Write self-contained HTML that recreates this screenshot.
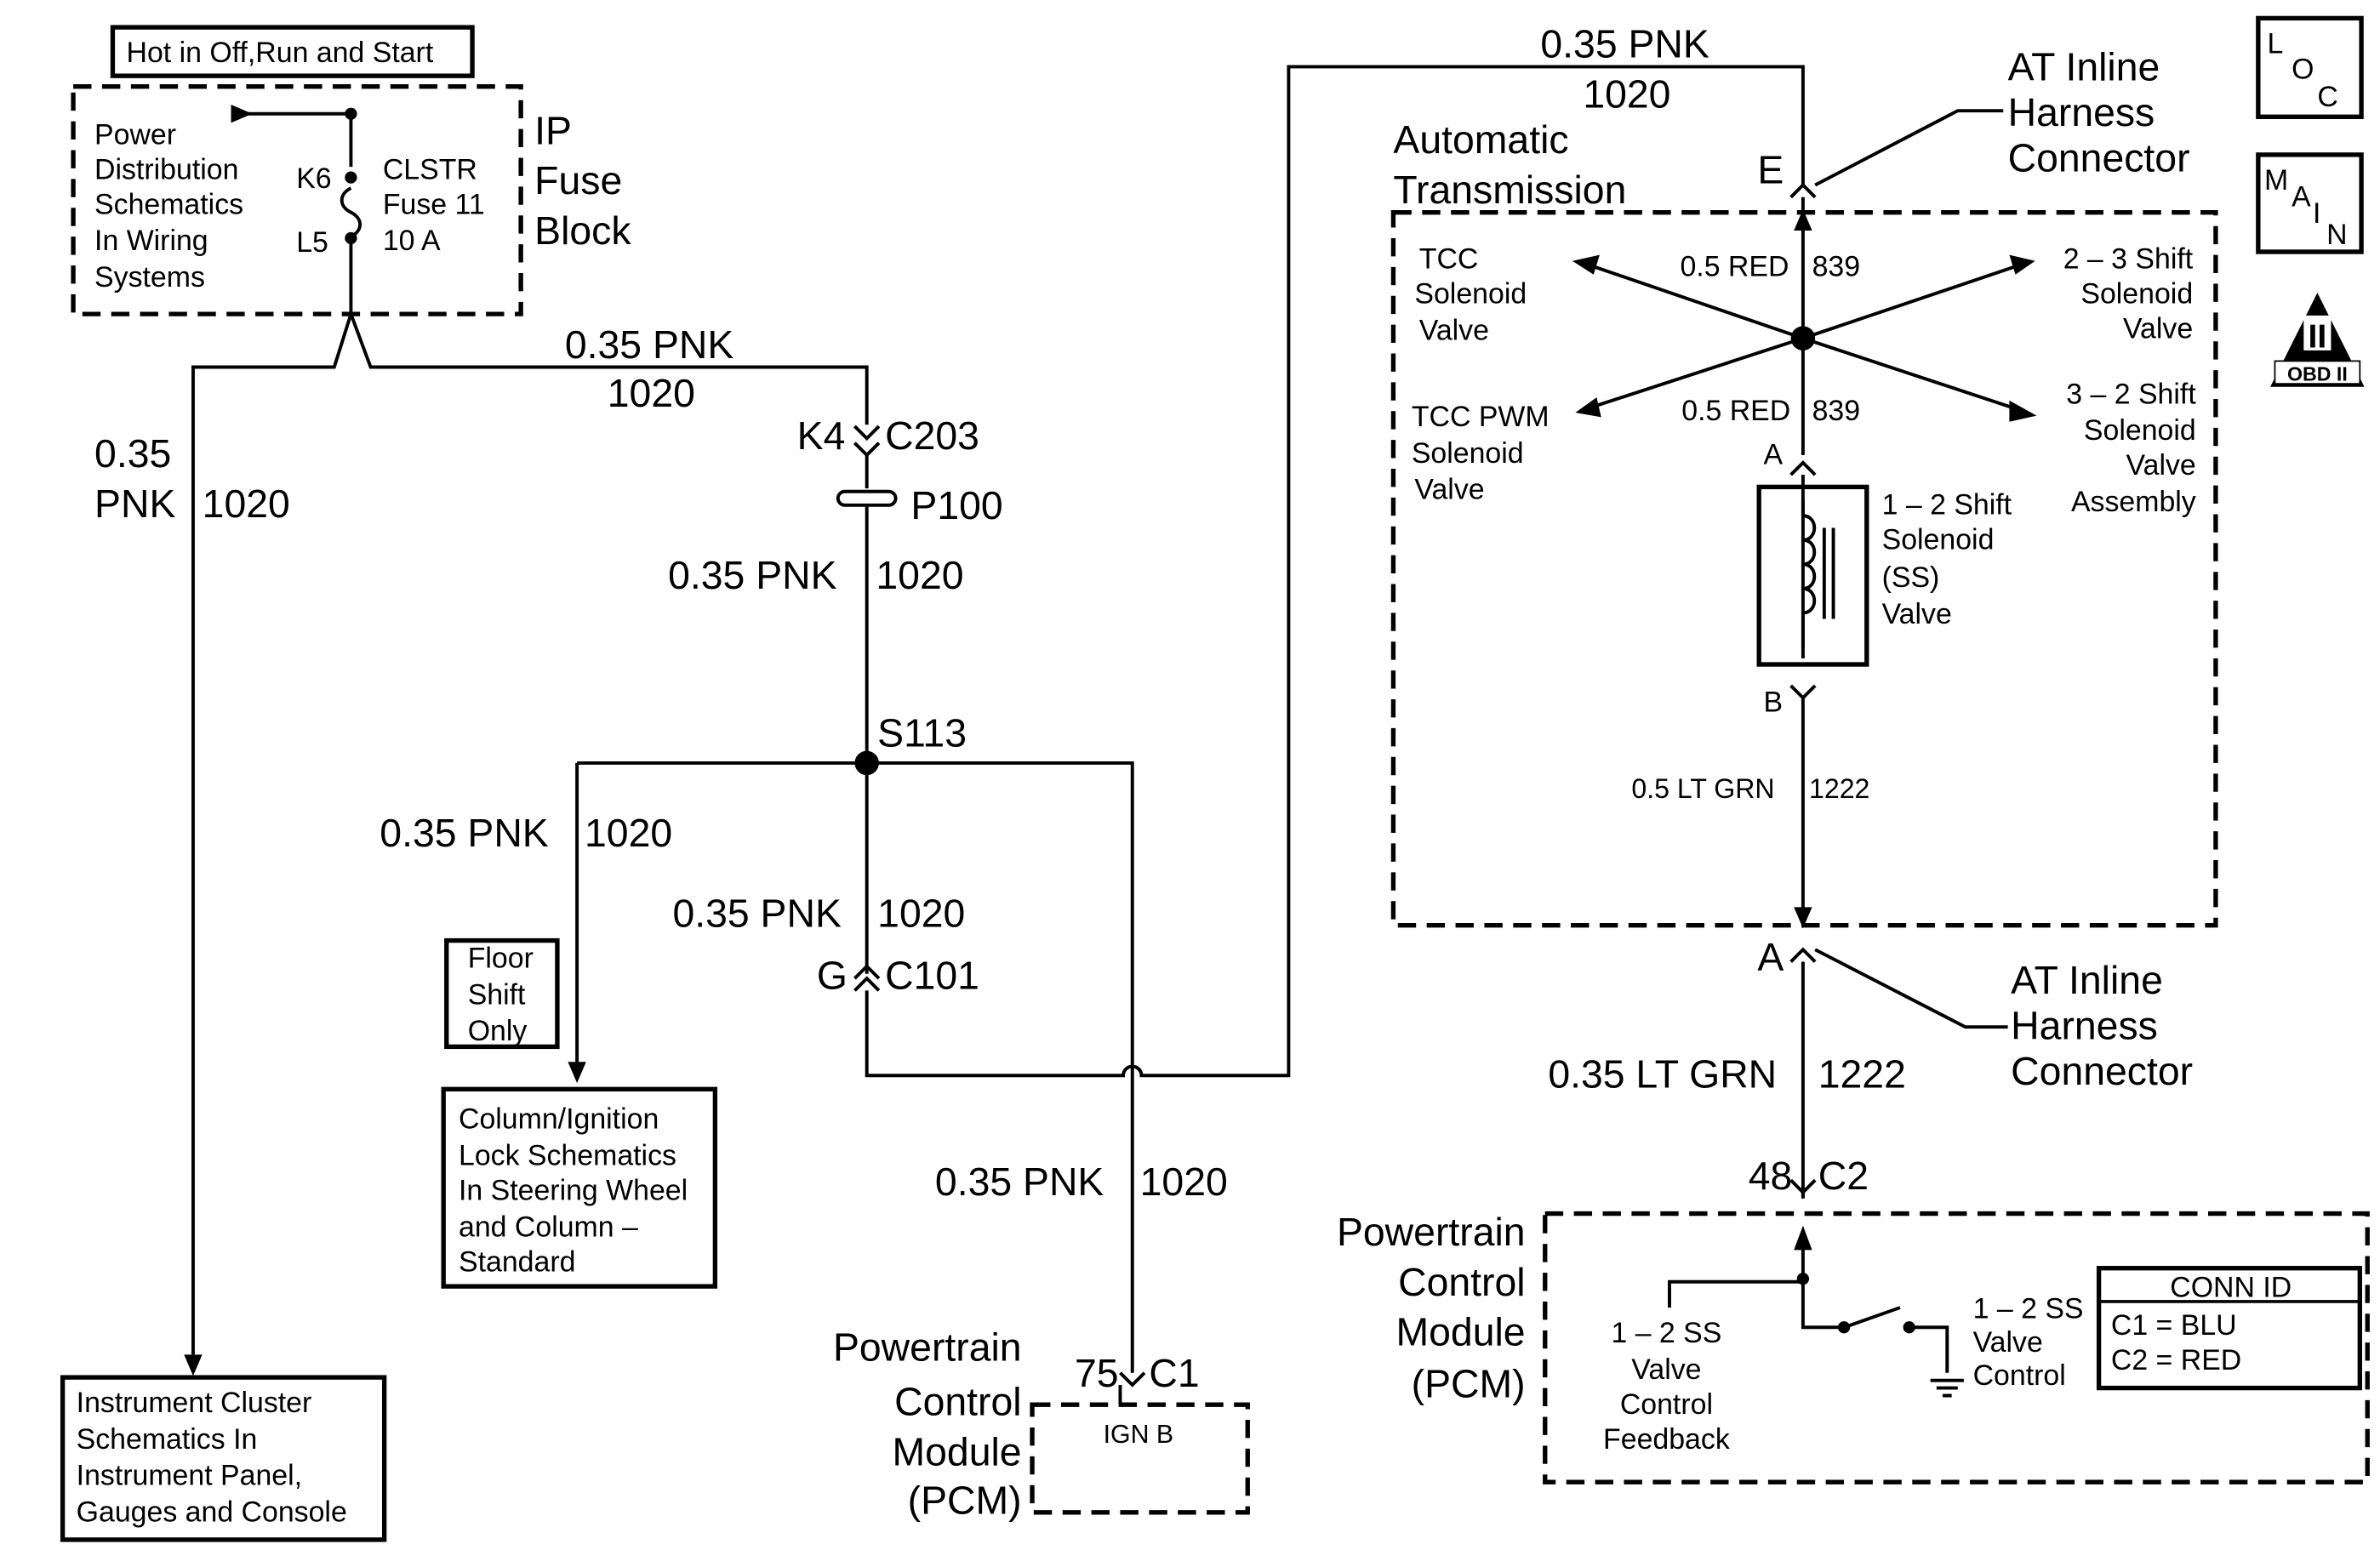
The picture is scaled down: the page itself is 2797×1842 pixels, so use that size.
<!DOCTYPE html>
<html><head><meta charset="utf-8"><style>
html,body{margin:0;padding:0;background:#fff}
svg{display:block}
text{font-family:"Liberation Sans",sans-serif;fill:#000}
.b{font-size:26px}.m{font-size:19px}.s{font-size:18px}
</style></head><body>
<svg width="2797" height="1842" viewBox="0 0 1568 1033" xmlns="http://www.w3.org/2000/svg">
<g fill="none" stroke="#000" stroke-width="2.2">
<!-- top left -->
<rect x="74" y="18" width="237" height="32" stroke-width="3"/>
<rect x="48" y="57" width="295" height="150" stroke-dasharray="12,7" stroke-width="3"/>
<path d="M160 75H231V110M231 124c-8 4-8 12 0 16c8 4 8 12 0 16M231 157V207L220 242H127V893M231 207L244 242H571V280"/>
<path d="M563 281l8 8l8-8M563 292l8 8l8-8M571 300V322M571 334V642M563 645l8-8l8 8M563 653l8-8l8 8M571 653V709H740a6 6 0 0 1 12 0H849V44H1188V122"/>
<rect x="552" y="324" width="38" height="9" rx="4.5"/>
<path d="M380 503H746V905M380 503V710"/>
<!-- auto transmission -->
<rect x="918" y="140" width="542" height="470" stroke-dasharray="12,7" stroke-width="3"/>
<path d="M1180 130l8-8l8 8M1188 130V300M1180 313l8-8l8 8M1188 313V434M1180 452l8 8l8-8M1188 460V608M1180 634l8-8l8 8M1188 634V790M1196 122L1290 73H1320M1196 626L1295 677H1323"/>
<path d="M1188 223L1045 174M1188 223L1333 174M1188 223L1047 269M1188 223L1333 271"/>
<rect x="1159" y="321" width="71" height="117" stroke-width="3"/>
<path d="M1188 340c10 0 10 16 0 16c10 0 10 16 0 16c10 0 10 16 0 16c10 0 10 16 0 16M1202 348V408M1208 348V408M1188 330V340M1188 404V428"/>
<!-- pcm right -->
<rect x="1018" y="800" width="542" height="177" stroke-dasharray="12,7" stroke-width="3"/>
<path d="M1188 812V875H1215M1218 874L1252 862M1258 875H1283V905M1100 862V845H1188M1272 910h22M1276 915h14M1280 920h6"/>
<rect x="1383" y="836" width="172" height="79" stroke-width="3"/>
<path d="M1383 858H1555" stroke-width="2"/>
<rect x="680" y="926" width="142" height="71" stroke-dasharray="12,7" stroke-width="3"/>
<path d="M738 905l8 8l8-8M738 913V926"/>
<path d="M1180 778l8 8l8-8M1188 786V790"/>
<!-- boxes -->
<rect x="294" y="620" width="73" height="70" stroke-width="3"/>
<rect x="292" y="718" width="179" height="130" stroke-width="3"/>
<rect x="41" y="908" width="212" height="107" stroke-width="3"/>
<rect x="1488" y="12" width="68" height="65" stroke-width="3"/>
<rect x="1488" y="102" width="68" height="64" stroke-width="3"/>
</g>
<g fill="#000">
<circle cx="231" cy="75" r="4"/><circle cx="231" cy="117" r="4"/><circle cx="231" cy="157" r="4"/>
<polygon points="152,69 166,75 152,81"/>
<circle cx="571" cy="503" r="8"/><circle cx="1188" cy="223" r="8"/>
<circle cx="1188" cy="843" r="4"/><circle cx="1215" cy="875" r="4"/><circle cx="1258" cy="875" r="4"/>
<polygon points="121,893 133,893 127,907"/>
<polygon points="374,700 386,700 380,714"/>
<polygon points="1182,152 1194,152 1188,138"/>
<polygon points="1182,598 1194,598 1188,612"/>
<polygon points="1182,824 1194,824 1188,808"/>
<polygon points="1036,172 1054,168 1050,181"/>
<polygon points="1341,172 1324,168 1328,181"/>
<polygon points="1038,272 1052,262 1055,275"/>
<polygon points="1342,274 1324,264 1324,278"/>
<polygon points="1527,193 1496,255 1558,255"/>
</g>
<rect x="1499" y="238" width="56" height="15" fill="#fff" stroke="#000" stroke-width="1"/>
<text x="1527" y="251" font-size="13" text-anchor="middle" font-weight="bold">OBD II</text>
<rect x="1518" y="208" width="18" height="23" fill="#fff"/>
<text x="1527" y="229" font-size="22" text-anchor="middle" fill="#000" font-weight="bold">II</text>
<text x="1494" y="35" class="m">L</text><text x="1510" y="52" class="m">O</text><text x="1527" y="70" class="m">C</text>
<text x="1492" y="125" class="m">M</text><text x="1510" y="136" class="m">A</text><text x="1524" y="147" class="m">I</text><text x="1533" y="161" class="m">N</text>
<text x="83" y="41" class="m">Hot in Off,Run and Start</text>
<g class="m"><text x="62" y="95">Power</text><text x="62" y="118">Distribution</text><text x="62" y="141">Schematics</text><text x="62" y="165">In Wiring</text><text x="62" y="189">Systems</text>
<text x="195" y="124">K6</text><text x="195" y="166">L5</text>
<text x="252" y="118">CLSTR</text><text x="252" y="141">Fuse 11</text><text x="252" y="165">10 A</text></g>
<g class="b"><text x="352" y="95">IP</text><text x="352" y="128">Fuse</text><text x="352" y="161">Block</text>
<text x="372" y="236">0.35 PNK</text><text x="400" y="268">1020</text>
<text x="62" y="308">0.35</text><text x="62" y="341">PNK</text><text x="133" y="341">1020</text>
<text x="525" y="296">K4</text><text x="583" y="296">C203</text><text x="600" y="342">P100</text>
<text x="440" y="388">0.35 PNK</text><text x="577" y="388">1020</text>
<text x="578" y="492">S113</text>
<text x="250" y="558">0.35 PNK</text><text x="385" y="558">1020</text>
<text x="443" y="611">0.35 PNK</text><text x="578" y="611">1020</text>
<text x="538" y="652">G</text><text x="583" y="652">C101</text>
<text x="616" y="788">0.35 PNK</text><text x="751" y="788">1020</text>
<text x="673" y="897" text-anchor="end">Powertrain</text><text x="673" y="933" text-anchor="end">Control</text><text x="673" y="966" text-anchor="end">Module</text><text x="673" y="998" text-anchor="end">(PCM)</text>
<text x="708" y="914">75</text><text x="757" y="914">C1</text>
<text x="1015" y="38">0.35 PNK</text><text x="1043" y="71">1020</text>
<text x="918" y="101">Automatic</text><text x="918" y="134">Transmission</text>
<text x="1158" y="121">E</text>
<text x="1323" y="53">AT Inline</text><text x="1323" y="83">Harness</text><text x="1323" y="113">Connector</text>
<text x="1158" y="640">A</text>
<text x="1325" y="655">AT Inline</text><text x="1325" y="685">Harness</text><text x="1325" y="715">Connector</text>
<text x="1020" y="717">0.35 LT GRN</text><text x="1198" y="717">1222</text>
<text x="1152" y="784">48</text><text x="1198" y="784">C2</text>
<text x="1005" y="821" text-anchor="end">Powertrain</text><text x="1005" y="854" text-anchor="end">Control</text><text x="1005" y="887" text-anchor="end">Module</text><text x="1005" y="921" text-anchor="end">(PCM)</text></g>
<g class="m">
<text x="308" y="638">Floor</text><text x="308" y="662">Shift</text><text x="308" y="686">Only</text>
<text x="302" y="744">Column/Ignition</text><text x="302" y="768">Lock Schematics</text><text x="302" y="791">In Steering Wheel</text><text x="302" y="815">and Column –</text><text x="302" y="838">Standard</text>
<text x="50" y="931">Instrument Cluster</text><text x="50" y="955">Schematics In</text><text x="50" y="979">Instrument Panel,</text><text x="50" y="1003">Gauges and Console</text>
<text x="935" y="177">TCC</text><text x="932" y="200">Solenoid</text><text x="935" y="224">Valve</text>
<text x="930" y="281">TCC PWM</text><text x="930" y="305">Solenoid</text><text x="932" y="329">Valve</text>
<text x="1445" y="177" text-anchor="end">2 – 3 Shift</text><text x="1445" y="200" text-anchor="end">Solenoid</text><text x="1445" y="223" text-anchor="end">Valve</text>
<text x="1447" y="266" text-anchor="end">3 – 2 Shift</text><text x="1447" y="290" text-anchor="end">Solenoid</text><text x="1447" y="313" text-anchor="end">Valve</text><text x="1447" y="337" text-anchor="end">Assembly</text>
<text x="1107" y="182">0.5 RED</text><text x="1194" y="182">839</text>
<text x="1108" y="277">0.5 RED</text><text x="1194" y="277">839</text>
<text x="1162" y="306">A</text><text x="1162" y="469">B</text>
<text x="1240" y="339">1 – 2 Shift</text><text x="1240" y="362">Solenoid</text><text x="1240" y="387">(SS)</text><text x="1240" y="411">Valve</text>
<text x="1098" y="885" text-anchor="middle">1 – 2 SS</text><text x="1098" y="909" text-anchor="middle">Valve</text><text x="1098" y="932" text-anchor="middle">Control</text><text x="1098" y="955" text-anchor="middle">Feedback</text>
<text x="1300" y="869">1 – 2 SS</text><text x="1300" y="891">Valve</text><text x="1300" y="913">Control</text>
<text x="1470" y="855" text-anchor="middle">CONN ID</text><text x="1391" y="880">C1  =  BLU</text><text x="1391" y="903">C2  =  RED</text>
</g>
<text x="1075" y="526" class="s">0.5 LT GRN</text><text x="1192" y="526" class="s">1222</text>
<text x="750" y="951" font-size="17" text-anchor="middle">IGN B</text>
</svg>
</body></html>
